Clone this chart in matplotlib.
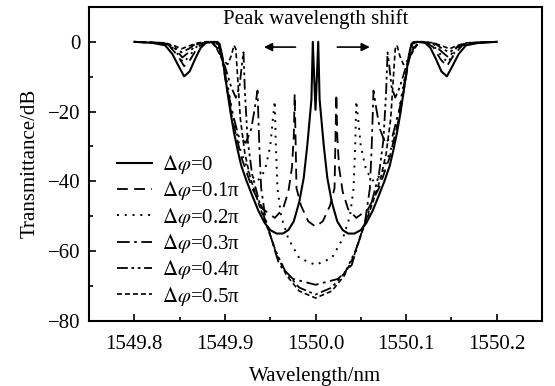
import numpy as np
import matplotlib.pyplot as plt

plt.rcParams['font.family'] = ['Liberation Serif', 'DejaVu Serif']
plt.rcParams['mathtext.fontset'] = 'stix'

center = 1550.0

# half profiles: offset from 1550.0 nm (left side), transmittance in dB
off_0 = [-0.200, -0.180, -0.166, -0.158, -0.150, -0.145, -0.139, -0.133, -0.127, -0.121,
         -0.112, -0.106, -0.103, -0.098, -0.094, -0.090, -0.086, -0.082, -0.076, -0.070,
         -0.063, -0.056, -0.050, -0.043, -0.036, -0.030, -0.024, -0.018, -0.013, -0.009,
         -0.0045, -0.003, -0.0015, 0.0]
db_0 = [0, -0.3, -1, -3.5, -7.5, -9.9, -8.5, -5, -1.8, -0.3,
        0, -0.5, -4, -13, -20, -26, -31, -35.5, -40, -44,
        -48.5, -52, -54, -55, -55, -54, -51.5, -46, -39, -29.5,
        -16.5, 0, -10, -19.5]

off_1 = [-0.200, -0.175, -0.162, -0.152, -0.145, -0.138, -0.130, -0.120, -0.108, -0.104,
         -0.100, -0.092, -0.082, -0.070, -0.058, -0.045, -0.036, -0.030, -0.026, -0.024,
         -0.023, -0.022, -0.021, -0.016, -0.008, 0.0]
db_1 = [0, -0.3, -1, -4, -7, -5, -1.5, 0, 0, -3,
        -10, -22, -33, -42, -48, -50.5, -48, -43, -36, -27,
        -15, -28, -42, -47, -51.5, -53]

off_2 = [-0.200, -0.172, -0.160, -0.152, -0.146, -0.139, -0.130, -0.120, -0.110, -0.105,
         -0.100, -0.092, -0.083, -0.073, -0.064, -0.056, -0.050, -0.047, -0.045, -0.044,
         -0.042, -0.038, -0.030, -0.018, 0.0]
db_2 = [0, -0.3, -1, -3.5, -6, -4, -1, 0, 0, -2,
        -8, -20, -31, -38, -40, -37, -30, -22, -17, -28,
        -42, -50, -56.5, -62, -64]

off_3 = [-0.200, -0.170, -0.158, -0.150, -0.147, -0.140, -0.131, -0.120, -0.112, -0.106,
         -0.100, -0.093, -0.085, -0.077, -0.071, -0.067, -0.064, -0.062, -0.060, -0.055,
         -0.047, -0.040, -0.025, 0.0]
db_3 = [0, -0.3, -1, -3.5, -4.5, -3, -0.8, 0, 0, -2,
        -9, -19, -27, -29, -25, -19, -14, -30, -42, -51,
        -58, -64, -68, -69.7]

off_4 = [-0.200, -0.168, -0.156, -0.148, -0.140, -0.132, -0.120, -0.114, -0.108, -0.100,
         -0.093, -0.088, -0.084, -0.081, -0.0795, -0.078, -0.075, -0.070, -0.062, -0.052,
         -0.044, -0.033, -0.018, 0.0]
db_4 = [0, -0.3, -1.5, -3, -2, -0.5, 0, 0, -2, -7,
        -13, -16, -13, -6, -3, -14, -28, -38, -46, -54,
        -60, -66, -70.5, -72.5]

off_5 = [-0.200, -0.166, -0.155, -0.148, -0.140, -0.130, -0.120, -0.115, -0.109, -0.103,
         -0.097, -0.093, -0.090, -0.088, -0.086, -0.083, -0.078, -0.072, -0.062, -0.050,
         -0.043, -0.032, -0.018, 0.0]
db_5 = [0, -0.3, -1.2, -2, -1.2, -0.3, 0, 0, -2, -5,
        -6.5, -4, -1, -2, -10, -22, -32, -39, -47, -55.5,
        -61, -67, -71.5, -73.5]

labels = [r'$\Delta\varphi$=0', r'$\Delta\varphi$=0.1π', r'$\Delta\varphi$=0.2π',
          r'$\Delta\varphi$=0.3π', r'$\Delta\varphi$=0.4π', r'$\Delta\varphi$=0.5π']
offsets = [off_0, off_1, off_2, off_3, off_4, off_5]
values = [db_0, db_1, db_2, db_3, db_4, db_5]
styles = ['-', (0, (6, 3.5)), (0, (1, 3)), (0, (7, 2.5, 1.5, 2.5)),
          (0, (6, 2, 1.5, 2, 1.5, 2)), (0, (3, 1.8))]
widths = [1.5, 1.3, 1.4, 1.3, 1.3, 1.2]


def full_curve(off, db):
    off = np.array(off)
    db = np.array(db)
    x = np.concatenate([center + off, center - off[-2::-1]])
    y = np.concatenate([db, db[-2::-1]])
    return x, y


fig = plt.figure(figsize=(5.55, 3.86), dpi=100)
ax = fig.add_axes([0.1604, 0.1692, 0.8162, 0.8127])

for off, db, ls, lw, lab in zip(offsets, values, styles, widths, labels):
    x, y = full_curve(off, db)
    ax.plot(x, y, color='black', linestyle=ls, linewidth=lw, label=lab)

ax.set_xlim(1549.75, 1550.25)
ax.set_ylim(-80, 10)
ax.set_xticks([1549.8, 1549.9, 1550.0, 1550.1, 1550.2])
ax.set_xticklabels(['1549.8', '1549.9', '1550.0', '1550.1', '1550.2'])
ax.set_xticks([1549.85, 1549.95, 1550.05, 1550.15], minor=True)
ax.set_yticks([0, -20, -40, -60, -80])
ax.set_yticklabels(['0', '\u221220', '\u221240', '\u221260', '\u221280'])
ax.set_yticks([-10, -30, -50, -70], minor=True)
ax.tick_params(which='both', direction='in', labelsize=15, width=1.2)
ax.tick_params(axis='x', pad=10)
ax.tick_params(axis='y', pad=6)
ax.tick_params(which='major', length=5)
ax.tick_params(which='minor', length=3)
for s in ax.spines.values():
    s.set_linewidth(1.5)

ax.set_xlabel('Wavelength/nm', fontsize=15, labelpad=10)
ax.set_ylabel('Transmittance/dB', fontsize=15, labelpad=6)

ax.text(1550.0, 6.6, 'Peak wavelength shift', fontsize=15, ha='center', va='center')
ax.annotate('', xy=(1549.940, -1.5), xytext=(1549.981, -1.5),
            arrowprops=dict(arrowstyle='-|>', color='black', lw=1.2, mutation_scale=12))
ax.annotate('', xy=(1550.063, -1.5), xytext=(1550.021, -1.5),
            arrowprops=dict(arrowstyle='-|>', color='black', lw=1.2, mutation_scale=12))

ax.legend(loc='lower left', bbox_to_anchor=(0.025, -0.012), frameon=False, fontsize=15,
          handlelength=1.7, handletextpad=0.45, labelspacing=0.16, borderpad=0.3)

fig.savefig('out.png', dpi=100)
